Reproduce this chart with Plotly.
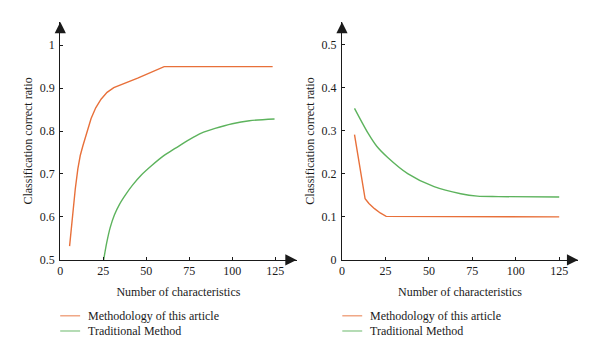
import plotly.graph_objects as go

# ---- data ----
left_method_x = [5.4, 6.3, 7.35, 8.7, 10.2, 11.6, 13.1, 15.3, 17.9, 20.6, 23.7, 27.2, 31.1, 45.0, 60.4, 123.5]
left_method_y = [0.532, 0.570, 0.613, 0.665, 0.712, 0.743, 0.765, 0.797, 0.829, 0.854, 0.874, 0.890, 0.901, 0.923, 0.950, 0.950]
left_trad_x = [25.2, 27.0, 29.0, 31.5, 34.5, 38.0, 42.0, 47.0, 53.0, 60.0, 67.0, 75.0, 82.0, 90.0, 100.0, 110.0, 124.6]
left_trad_y = [0.500, 0.540, 0.575, 0.605, 0.630, 0.652, 0.674, 0.697, 0.719, 0.742, 0.760, 0.780, 0.795, 0.806, 0.817, 0.824, 0.828]

right_method_x = [7.2, 13.3, 15.5, 18.7, 22.0, 25.4, 125.0]
right_method_y = [0.291, 0.142, 0.131, 0.119, 0.109, 0.101, 0.100]
right_trad_x = [7.2, 14.9, 20.0, 26.3, 37.8, 53.0, 68.3, 77.9, 90.0, 125.0]
right_trad_y = [0.352, 0.295, 0.264, 0.238, 0.2005, 0.170, 0.1536, 0.148, 0.147, 0.146]

x_ticks = [0, 25, 50, 75, 100, 125]
left_y_ticks = [0.5, 0.6, 0.7, 0.8, 0.9, 1.0]
left_y_labels = ["0.5", "0.6", "0.7", "0.8", "0.9", "1"]
right_y_ticks = [0, 0.1, 0.2, 0.3, 0.4, 0.5]
right_y_labels = ["0", "0.1", "0.2", "0.3", "0.4", "0.5"]

series_names = ["Methodology of this article", "Traditional Method"]
ORANGE = "#E8703A"
GREEN = "#5DB35D"
AXC = "#1a1a1a"
TXT = "#1a1a1a"
FONT = "Liberation Serif, Times New Roman, serif"
TICK_SIZE = 12
TEXT_SIZE = 12
W, H = 600, 363

fig = go.Figure()
fig.add_trace(go.Scatter(x=left_method_x, y=left_method_y, mode="lines", name=series_names[0],
                         line=dict(color=ORANGE, width=1.4), xaxis="x", yaxis="y", showlegend=False))
fig.add_trace(go.Scatter(x=left_trad_x, y=left_trad_y, mode="lines", name=series_names[1],
                         line=dict(color=GREEN, width=1.4, shape="spline", smoothing=0.8),
                         xaxis="x", yaxis="y", showlegend=False))
fig.add_trace(go.Scatter(x=right_method_x, y=right_method_y, mode="lines", name=series_names[0],
                         line=dict(color=ORANGE, width=1.4), xaxis="x2", yaxis="y2", showlegend=False))
fig.add_trace(go.Scatter(x=right_trad_x, y=right_trad_y, mode="lines", name=series_names[1],
                         line=dict(color=GREEN, width=1.4, shape="spline", smoothing=0.8),
                         xaxis="x2", yaxis="y2", showlegend=False))

def px_x(p):
    return p / W

def px_y(p):
    return 1 - p / H

# left panel geometry (pixels)
L_x0, L_xend = 57.6, 295.0
L_ppu_x = 216.0 / 125
L_ybot, L_ytop = 265.0, 22.5
L_ppu_y = 438.0
# right panel geometry
R_x0, R_xend = 340.7, 578.0
R_ppu_x = 218.3 / 125
R_ybot, R_ytop = 265.0, 22.5
R_ppu_y = 439.0

axis_common = dict(showgrid=False, zeroline=False, showline=True, linecolor=AXC, linewidth=1.1,
                   ticks="inside", ticklen=3, tickwidth=1, tickcolor=AXC,
                   tickfont=dict(family=FONT, size=TICK_SIZE, color=TXT))
title_font = dict(family=FONT, size=TEXT_SIZE, color=TXT)

fig.update_layout(
    width=W, height=H, margin=dict(l=0, r=0, t=0, b=0),
    paper_bgcolor="white", plot_bgcolor="white",
    font=dict(family=FONT, size=TEXT_SIZE, color=TXT),
    xaxis=dict(domain=[px_x(L_x0), px_x(L_xend)], range=[0, (L_xend - L_x0) / L_ppu_x],
               tickvals=x_ticks, anchor="y",
               title=dict(text="Number of characteristics", standoff=10, font=title_font), **axis_common),
    yaxis=dict(domain=[px_y(L_ybot), px_y(L_ytop)], range=[0.5, 0.5 + (L_ybot - L_ytop) / L_ppu_y],
               tickvals=left_y_ticks, ticktext=left_y_labels, anchor="x", ticklabelstandoff=2,
               title=dict(text="Classification correct ratio", standoff=4, font=title_font), **axis_common),
    xaxis2=dict(domain=[px_x(R_x0), px_x(R_xend)], range=[0, (R_xend - R_x0) / R_ppu_x],
                tickvals=x_ticks, anchor="y2",
                title=dict(text="Number of characteristics", standoff=10, font=title_font), **axis_common),
    yaxis2=dict(domain=[px_y(R_ybot), px_y(R_ytop)], range=[0, (R_ybot - R_ytop) / R_ppu_y],
                tickvals=right_y_ticks, ticktext=right_y_labels, anchor="x2", ticklabelstandoff=2,
                title=dict(text="Classification correct ratio", standoff=4, font=title_font), **axis_common),
)

# arrowheads at ends of axes
arrow = dict(showarrow=True, arrowhead=2, arrowsize=1.4, arrowwidth=1.6, arrowcolor=AXC, text="")
fig.add_annotation(x=1, y=0, xref="x domain", yref="y domain", ax=-12, ay=0, **arrow)
fig.add_annotation(x=0, y=1, xref="x domain", yref="y domain", ax=0, ay=12, **arrow)
fig.add_annotation(x=1, y=0, xref="x2 domain", yref="y2 domain", ax=-12, ay=0, **arrow)
fig.add_annotation(x=0, y=1, xref="x2 domain", yref="y2 domain", ax=0, ay=12, **arrow)

# legends (drawn as line samples + labels)
legend_rows = [(322, ORANGE, series_names[0]), (337.5, GREEN, series_names[1])]
for (lx0, lx1, tx) in [(57.5, 77.5, 83), (341, 361, 366.5)]:
    for (py, col, name) in legend_rows:
        fig.add_shape(type="line", xref="paper", yref="paper",
                      x0=px_x(lx0), x1=px_x(lx1), y0=px_y(py), y1=px_y(py),
                      line=dict(color=col, width=1.3), opacity=0.7)
        fig.add_annotation(x=px_x(tx), y=px_y(py), xref="paper", yref="paper", text=name,
                           showarrow=False, xanchor="left", yanchor="middle",
                           font=dict(family=FONT, size=TEXT_SIZE, color=TXT))

fig.write_html("out.html", config={"displayModeBar": False},
               post_script="document.body.style.margin='0';document.body.style.overflow='hidden';")
